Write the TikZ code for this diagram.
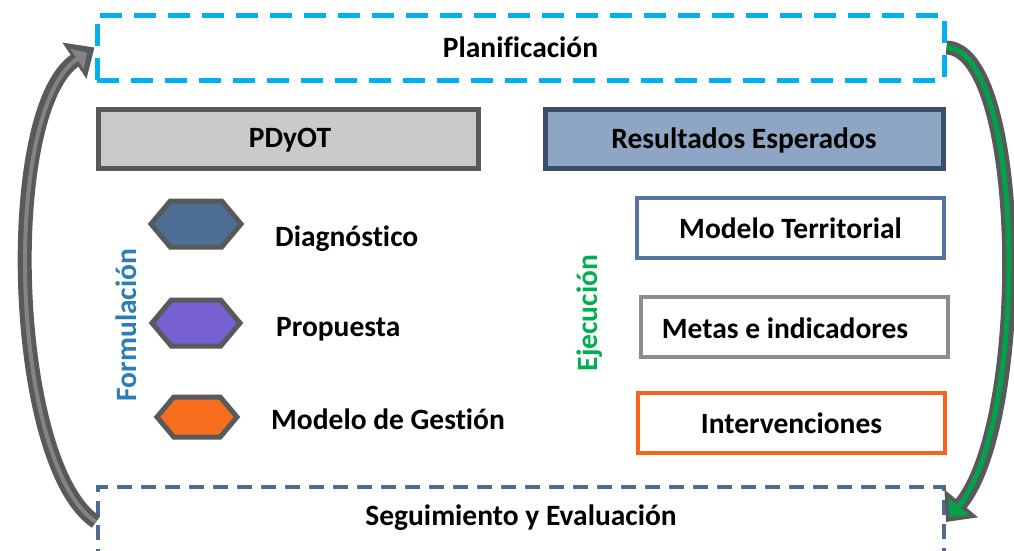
\documentclass[tikz,border=0pt]{standalone}
\usepackage{fontspec}
\setmainfont[Ligatures=CommonOff]{Carlito}
\usetikzlibrary{arrows.meta,shapes.symbols}
\definecolor{celeste}{HTML}{00B0F0}
\definecolor{grisborde}{HTML}{58595B}
\definecolor{grisfondo}{HTML}{C9CACC}
\definecolor{azulborde}{HTML}{3A4D6A}
\definecolor{azulfondo}{HTML}{8EA5C3}
\definecolor{azulhex}{HTML}{4F6E96}
\definecolor{moradohex}{HTML}{7760D0}
\definecolor{naranja}{HTML}{F86E1E}
\definecolor{azulmod}{HTML}{5573A0}
\definecolor{grismetas}{HTML}{8C8C8C}
\definecolor{azulseg}{HTML}{4F6A93}
\definecolor{verde}{HTML}{00A24B}
\definecolor{verdetxt}{HTML}{00B050}
\definecolor{azultxt}{HTML}{2A7DB8}
\tikzset{
  texto/.style={font=\fontsize{29.5}{33}\selectfont\bfseries},
  caja/.style={texto,draw,line width=5pt,minimum width=380pt,minimum height=59pt},
  resultado/.style={texto,draw,line width=4pt,fill=white,minimum width=307pt,minimum height=60pt},
  hexa/.style={signal,signal to=west and east,signal pointer angle=100,draw=grisborde,
    line width=5pt,minimum width=90pt,minimum height=46pt,inner sep=0pt},
  etiqueta/.style={texto,anchor=west,inner sep=0pt},
  flecha/.style={line width=14pt,grisborde},
}
\begin{document}
\begin{tikzpicture}[x=1pt,y=-1pt]
  \clip (0,0) rectangle (1014,550);
  \fill[white] (0,0) rectangle (1014,550);
  % cajas de arriba y abajo
  \node[texto,draw=celeste,dash pattern=on 22pt off 12pt,line width=5pt,
    minimum width=847pt,minimum height=65pt] (plan) at (520.5,47.5) {Planificación};
  \node[texto,draw=azulseg,dash pattern=on 15pt off 9pt,line width=4pt,
    minimum width=846pt,minimum height=70pt] (seg) at (521,522) {};
  \node[texto] (segtxt) at (521,518) {Seguimiento y Evaluación};
  % PDyOT y resultados
  \node[caja,draw=grisborde,fill=grisfondo] (pdyot) at (288,138.5) {};
  \node[texto] (pdyottxt) at (290,140) {PDyOT};
  \node[caja,draw=azulborde,fill=azulfondo,minimum width=398pt] (res) at (744,138.5) {};
  \node[texto] (restxt) at (744,140) {Resultados Esperados};
  % formulacion
  \node[hexa,fill=azulhex] (hdiag) at (196,224) {};
  \node[hexa,fill=moradohex,minimum width=88pt] (hprop) at (196,323) {};
  \node[hexa,fill=naranja,minimum width=80pt,minimum height=40pt] (hmod) at (197,417) {};
  \node[etiqueta] (diag) at (275,239) {Diagnóstico};
  \node[etiqueta] (prop) at (276,329) {Propuesta};
  \node[etiqueta] (mod) at (271,419) {Modelo de Gestión};
  \node[texto,text=azultxt,rotate=90] (form) at (126,325) {Formulación};
  % ejecucion
  \node[texto,text=verdetxt,rotate=90] (ejec) at (590,313) {Ejecución};
  \node[resultado,draw=azulmod] (mterr) at (790.5,228) {Modelo Territorial};
  \node[resultado,draw=grismetas] (metas) at (794,327) {};
  \node[texto] (metastxt) at (785,328) {Metas e indicadores};
  \node[resultado,draw=naranja!90!red] (inter) at (791.5,423) {Intervenciones};
  % flechas del ciclo
  \draw[flecha,-{Triangle[length=24pt,width=42pt]}]
    (seg.west) .. controls (10,465) and (0,110) .. (plan.west);
  \draw[line width=4pt,grisborde!75!white,shorten >=9pt,-{Triangle[length=12pt,width=24pt]}]
    (seg.west) .. controls (10,465) and (0,110) .. (plan.west);
  \draw[flecha,-{Triangle[length=24pt,width=42pt]}]
    (plan.east) .. controls (1025,50) and (1030,420) .. (seg.east);
  \draw[line width=5pt,verde,shorten >=6pt,-{Triangle[length=14pt,width=26pt]}]
    (plan.east) .. controls (1025,50) and (1030,420) .. (seg.east);
\end{tikzpicture}
\end{document}
